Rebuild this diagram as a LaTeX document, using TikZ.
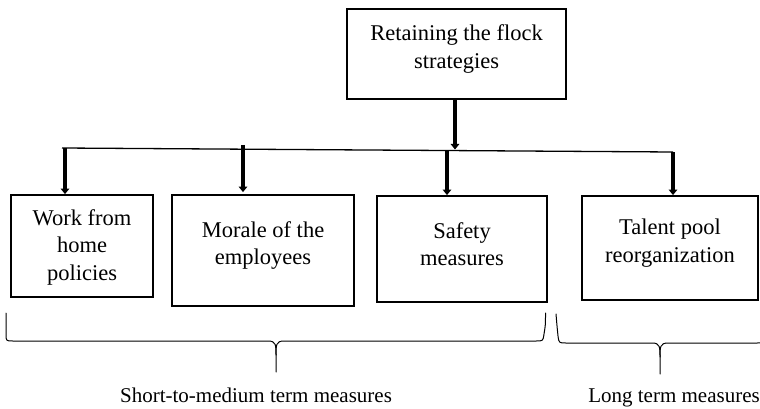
\documentclass[tikz,border=0pt]{standalone}
\usepackage{fontspec}
\setmainfont{Liberation Serif}
\usetikzlibrary{arrows.meta}
\begin{document}
\begin{tikzpicture}[x=1pt,y=-1pt,
  box/.style={draw, line width=1.8pt, inner sep=0pt},
  topbox/.style={box, line width=2.6pt},
  boxtext/.style={align=center, inner sep=0pt, font=\fontsize{22.5}{27.5}\selectfont},
  feed/.style={line width=3.6pt, -{Triangle[width=8.5pt,length=5.5pt]}},
  bus/.style={line width=1.3pt},
  brace/.style={line width=1pt, line join=round, line cap=round},
  caption/.style={anchor=base, inner sep=0pt, font=\fontsize{21}{25}\selectfont}]
\clip (0,0) rectangle (760,409);

% boxes
\node[topbox, minimum width=219pt, minimum height=90pt] (top) at (456.5,54) {};
\node[boxtext] (toptext) at ([yshift=5pt]top.center) {Retaining the flock\\strategies};

\node[box, minimum width=142pt, minimum height=102pt] (b1) at (82,246) {};
\node[boxtext] (b1text) at ([yshift=-1pt]b1.center) {Work from\\home\\policies};

\node[box, minimum width=182pt, minimum height=111pt] (b2) at (263,250.5) {};
\node[boxtext] (b2text) at ([yshift=5pt]b2.center) {Morale of the\\employees};

\node[box, minimum width=170pt, minimum height=106pt] (b3) at (462,249) {};
\node[boxtext] (b3text) at ([yshift=5pt]b3.center) {Safety\\measures};

\node[box, minimum width=176pt, minimum height=104pt] (b4) at (670,248) {};
\node[boxtext] (b4text) at ([yshift=5pt]b4.center) {Talent pool\\reorganization};

% distribution line
\coordinate (busL) at (62,148);
\coordinate (busR) at (673,152);
\coordinate (join) at (455,149.5);
\draw[bus] (busL) -- (busR);

% arrows
\draw[feed] (top.south -| join) -- (join);
\coordinate (a1) at (65,148);
\coordinate (a2) at (243,145);
\coordinate (a3) at (447,150);
\coordinate (a4) at (673,152);
\draw[feed] (a1) -- (a1 |- b1.north);
\draw[feed] (a2) -- ([yshift=2pt]a2 |- b2.north);
\draw[feed] (a3) -- (a3 |- b3.north);
\draw[feed] (a4) -- (a4 |- b4.north);

% braces
\draw[brace] (6,313) -- (6,334) .. controls (6,341) .. (13,341) -- (268,341)
  .. controls (276,341) and (276,345) .. (276,355) -- (276,372);
\draw[brace] (545.5,313) .. controls (545.5,325) .. (544,334) .. controls (543,341) .. (536,341) -- (284,341)
  .. controls (276,341) and (276,345) .. (276,355);

\draw[brace] (556,314) .. controls (557,326) .. (558,336) .. controls (559,343) .. (566,343) -- (652,343)
  .. controls (660,343) and (660,347) .. (660,357) -- (660,374);
\draw[brace] (764,314) -- (764,336) .. controls (764,343) .. (757,343) -- (668,343)
  .. controls (660,343) and (660,347) .. (660,357);

% captions
\node[caption] (short) at (256,402) {Short-to-medium term measures};
\node[caption] (long) at (674,402) {Long term measures};
\end{tikzpicture}
\end{document}
